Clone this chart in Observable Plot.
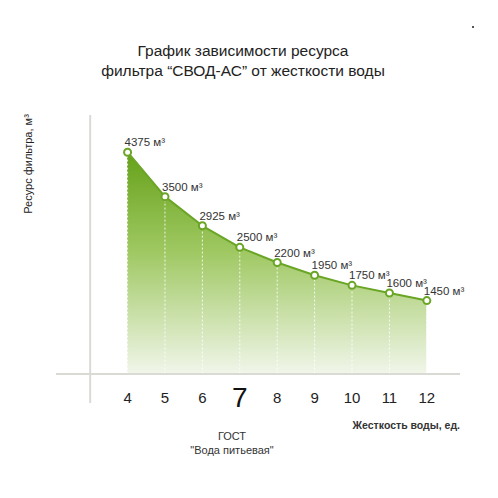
<!DOCTYPE html>
<html><head><meta charset="utf-8">
<script src="https://cdn.jsdelivr.net/npm/d3@7"></script>
<script src="https://cdn.jsdelivr.net/npm/@observablehq/plot@0.6"></script>
<style>
body{margin:0;background:#fff;font-family:"Liberation Sans",Arial,sans-serif;}
#wrap{position:relative;width:498px;height:498px;overflow:hidden;}
#wrap svg{position:absolute;left:0;top:0;}
.t{position:absolute;color:#222;white-space:nowrap;line-height:1;}
</style></head><body><div id="wrap"></div>
<script>
const hardness = [4, 5, 6, 7, 8, 9, 10, 11, 12];
const resource = [4375, 3500, 2925, 2500, 2200, 1950, 1750, 1600, 1450];
const tickLabels = ["4", "5", "6", "7", "8", "9", "10", "11", "12"];
const highlightTick = 7;
const unit = "м³";
const titleLines = ["График зависимости ресурса", "фильтра “СВОД-АС” от жесткости воды"];
const yLabel = "Ресурс фильтра, м³";
const xLabel = "Жесткость воды, ед.";
const noteLines = ["ГОСТ", "\"Вода питьевая\""];

const data = hardness.map((h, i) => ({h, v: resource[i], label: `${resource[i]} ${unit}`}));
const ticks = hardness.map((h, i) => ({h, label: tickLabels[i]}));

const green = "#6aa526";
const axisGrey = "#dadad5";
const font = "Liberation Sans, Arial, sans-serif";

const plot = Plot.plot({
  width: 498, height: 498,
  marginLeft: 56, marginRight: 38, marginTop: 115, marginBottom: 95,
  x: {domain: [2.1, 12.9], axis: null},
  y: {domain: [-580, 5100], axis: null},
  style: {fontFamily: font, background: "transparent", overflow: "visible"},
  marks: [
    Plot.areaY(data, {x: "h", y: "v", fill: "url(#areaGrad)"}),
    Plot.ruleX(data, {x: "h", y1: 0, y2: "v", stroke: "white", strokeOpacity: 0.85, strokeWidth: 1, strokeDasharray: "2,2"}),
    Plot.ruleX([3], {stroke: axisGrey, strokeWidth: 2}),
    Plot.ruleY([0], {stroke: axisGrey, strokeWidth: 2}),
    Plot.line(data, {x: "h", y: "v", stroke: green, strokeWidth: 2}),
    Plot.dot(data, {x: "h", y: "v", r: 3.5, fill: "white", stroke: green, strokeWidth: 2}),
    Plot.text(data, {x: "h", y: "v", text: "label", textAnchor: "start", lineAnchor: "bottom", dx: -3, dy: -6, fontSize: 11.5, fill: "#333"}),
    Plot.text(ticks.filter(d => d.h !== highlightTick), {x: "h", text: "label", frameAnchor: "bottom", lineAnchor: "bottom", dy: -1, fontSize: 15, fill: "#222"}),
    Plot.text(ticks.filter(d => d.h === highlightTick), {x: "h", text: "label", frameAnchor: "bottom", lineAnchor: "bottom", dy: 3, fontSize: 28, fill: "#111"})
  ]
});

const defs = d3.select(plot).insert("defs", ":first-child");
const grad = defs.append("linearGradient").attr("id", "areaGrad")
  .attr("x1", 0).attr("y1", 0).attr("x2", 0).attr("y2", 1);
grad.append("stop").attr("offset", 0).attr("stop-color", "#65a119");
grad.append("stop").attr("offset", 0.45).attr("stop-color", "#9fc862");
grad.append("stop").attr("offset", 1).attr("stop-color", "#f1f6ea");

const wrap = document.getElementById("wrap");
wrap.appendChild(plot);

function addText(txt, css) {
  const d = document.createElement("div");
  d.className = "t";
  d.textContent = txt;
  Object.assign(d.style, css);
  wrap.appendChild(d);
  return d;
}
addText(titleLines[0], {left: "0", width: "486px", textAlign: "center", top: "43px", fontSize: "15.5px"});
addText(titleLines[1], {left: "0", width: "486px", textAlign: "center", top: "63px", fontSize: "15.5px"});
addText(yLabel, {left: "28px", top: "164px", fontSize: "11px", transform: "translate(-50%,-50%) rotate(-90deg)", transformOrigin: "center"});
addText(xLabel, {right: "38px", top: "420px", fontSize: "10.5px", fontWeight: "bold", color: "#333"});
addText(noteLines[0], {left: "232px", top: "431px", fontSize: "11px", transform: "translateX(-50%)", color: "#333"});
addText(noteLines[1], {left: "232px", top: "445px", fontSize: "11px", transform: "translateX(-50%)", color: "#333"});
const dot = document.createElement("div");
Object.assign(dot.style, {position: "absolute", left: "472px", top: "26px", width: "2px", height: "2px", background: "#555"});
wrap.appendChild(dot);
</script></body></html>
